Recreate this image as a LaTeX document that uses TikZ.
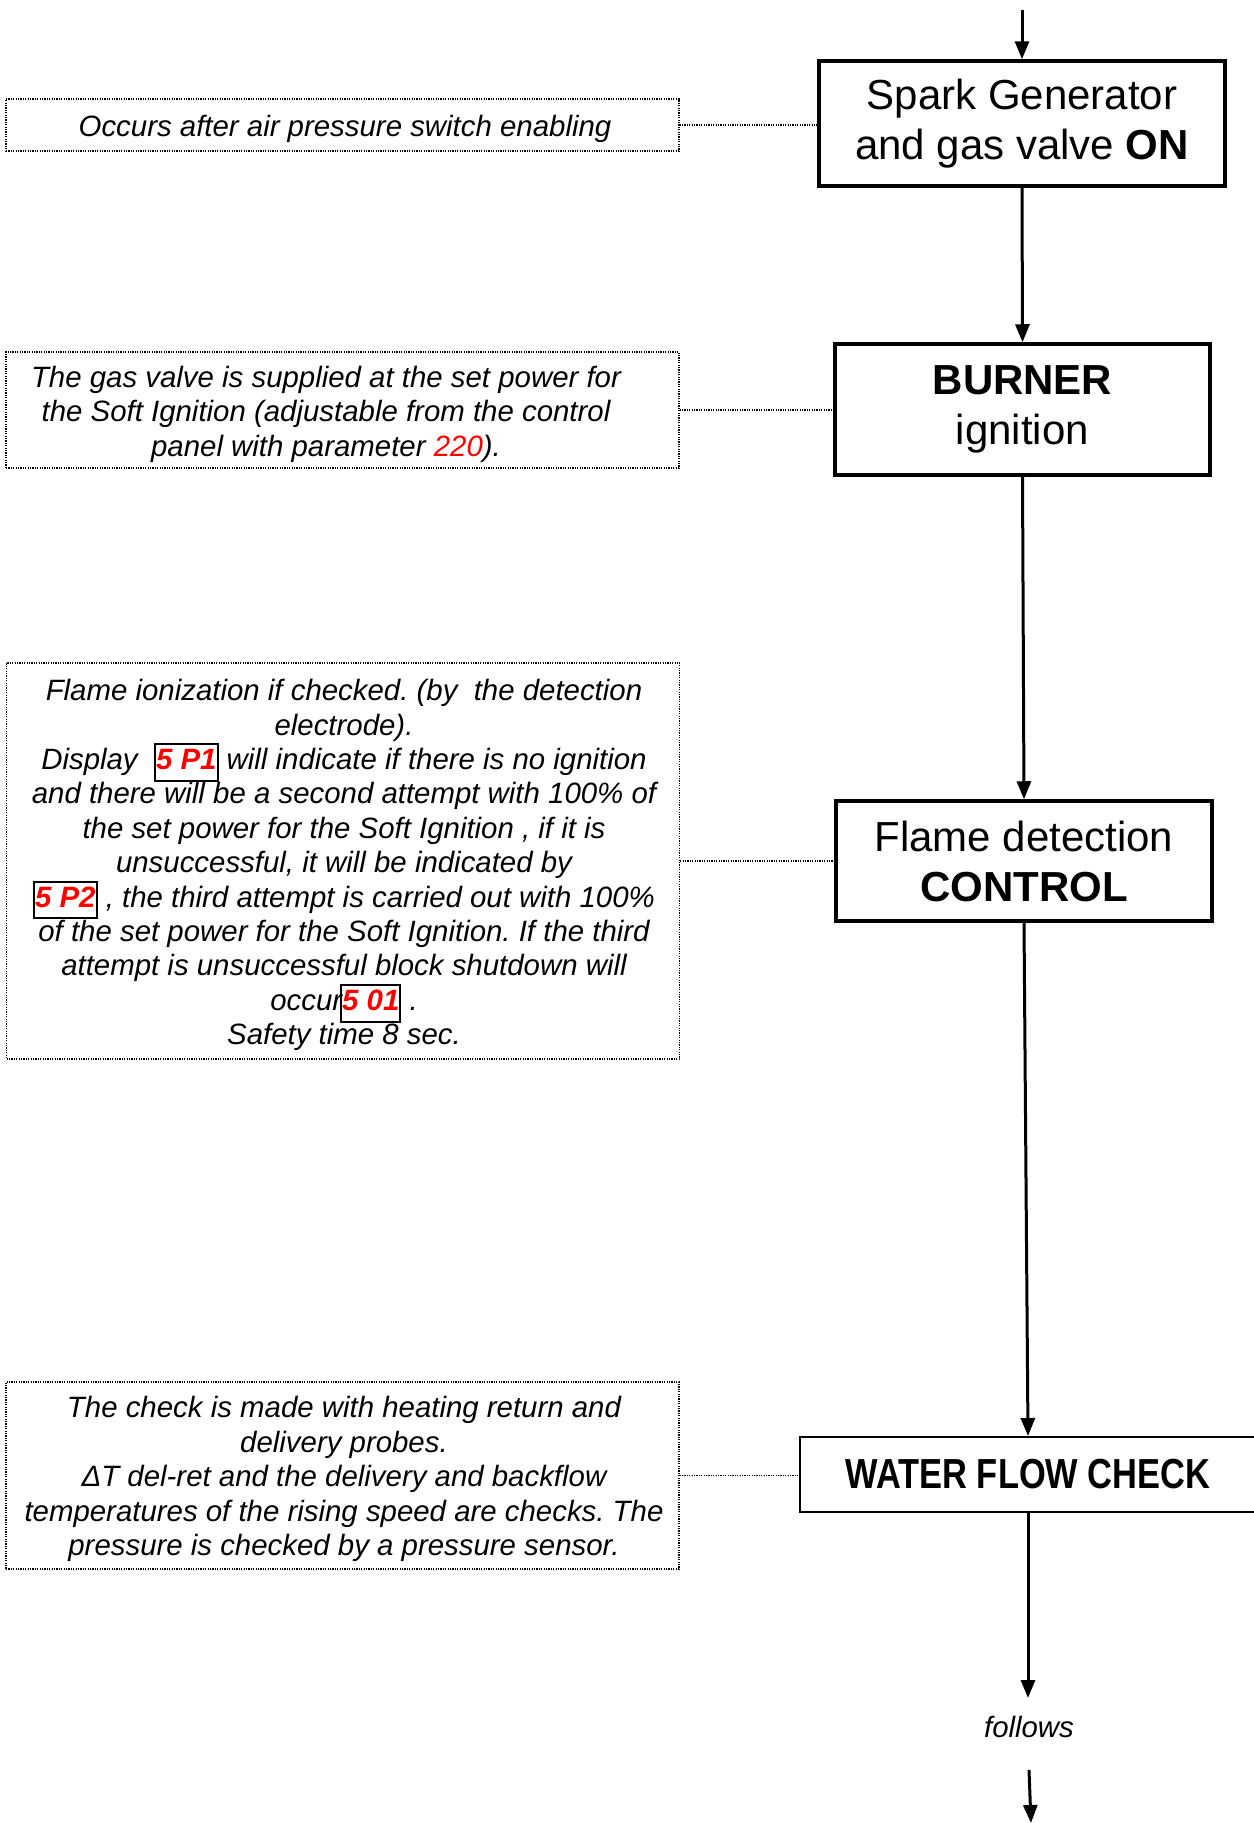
\documentclass[tikz,border=0pt]{standalone}
\usepackage{fontspec}
\setmainfont{Liberation Sans}
\newfontfamily\narrowbold[FakeStretch=0.82]{Liberation Sans Bold}
\usetikzlibrary{arrows.meta}
\definecolor{codered}{RGB}{255,0,0}
\newcommand{\codebox}[1]{{\setlength{\fboxsep}{0pt}\setlength{\fboxrule}{2pt}\fbox{\strut\textcolor{codered}{\bfseries #1}}}}
\tikzset{
  mainbox/.style={draw, line width=3.5pt, align=center, inner sep=0pt, font=\fontsize{42}{50}\selectfont},
  notebox/.style={draw, line width=1.2pt, dash pattern=on 1.2pt off 1.2pt, inner sep=0pt, minimum width=673pt},
  notetext/.style={align=center, inner sep=0pt, font=\fontsize{29.4}{34.4}\selectfont\itshape\frenchspacing},
  flow/.style={line width=3pt, -{Triangle[length=18pt,width=14pt]}},
  link/.style={line width=1.2pt, dash pattern=on 1.2pt off 1.2pt}
}
\begin{document}
\begin{tikzpicture}[x=1pt,y=-1pt]
\useasboundingbox (0,0) rectangle (1253,1823);
% main boxes
\node[mainbox, minimum width=406pt, minimum height=125pt] (spark) at (1022,123.5)
  {Spark Generator\\and gas valve \textbf{ON}};
\node[mainbox, minimum width=375pt, minimum height=131pt] (burner) at (1022.5,409.5)
  {\textbf{BURNER}\\ignition};
\node[mainbox, minimum width=376pt, minimum height=120pt] (flame) at (1024,861)
  {Flame detection\\\textbf{CONTROL}};
\node[draw, line width=2pt, inner sep=0pt, minimum width=456pt, minimum height=75pt,
  font=\fontsize{42}{50}\narrowbold] (water) at (1028,1474.5) {WATER FLOW CHECK};
\node[font=\fontsize{29.4}{34}\selectfont\itshape] (follows) at (1029,1727) {follows};
\coordinate (top) at (1022,10);
\coordinate (fend) at (1028,1698);
\coordinate (nstart) at (1029,1770);
\coordinate (nend) at (1031,1823);
% note boxes
\node[notebox, minimum height=52pt] (n1) at (342.5,125) {};
\node[notebox, minimum height=116pt] (n2) at (342.5,410) {};
\node[notebox, minimum height=396pt] (n3) at (343,861) {};
\node[notebox, minimum height=187pt] (n4) at (342.5,1475.5) {};
% note texts
\node[notetext] (t1) at (345,129) {Occurs after air pressure switch enabling};
\node[notetext] (t2) at (326,414)
  {The gas valve is supplied at the set power for\\
   the Soft Ignition (adjustable from the control\\
   panel with parameter \textcolor{codered}{220}).};
\node[notetext] (t3) at (344,865)
  {Flame ionization if checked. (by\ \ the detection\\
   electrode).\\
   Display\ \ \codebox{5 P1} will indicate if there is no ignition\\
   and there will be a second attempt with 100\% of\\
   the set power for the Soft Ignition , if it is\\
   unsuccessful, it will be indicated by\\
   \codebox{5 P2} , the third attempt is carried out with 100\%\\
   of the set power for the Soft Ignition. If the third\\
   attempt is unsuccessful block shutdown will\\
   occur\hspace{-2pt}\codebox{5 01} .\\
   Safety time 8 sec.};
\node[notetext] (t4) at (344,1479)
  {The check is made with heating return and\\
   delivery probes.\\
   ΔT del-ret and the delivery and backflow\\
   temperatures of the rising speed are checks. The\\
   pressure is checked by a pressure sensor.};
% flow arrows
\draw[flow] (top) -- (spark.north);
\draw[flow] (spark.south) -- (burner.north);
\draw[flow] (burner.south) -- (flame.north);
\draw[flow] (flame.south) -- (water.north);
\draw[flow] (water.south) -- (fend);
\draw[flow] (nstart) -- (nend);
% dotted links
\draw[link] (n1.east) -- (n1.east -| spark.west);
\draw[link] (n2.east) -- (n2.east -| burner.west);
\draw[link] (n3.east) -- (n3.east -| flame.west);
\draw[link] (n4.east) -- (n4.east -| water.west);
\end{tikzpicture}
\end{document}
